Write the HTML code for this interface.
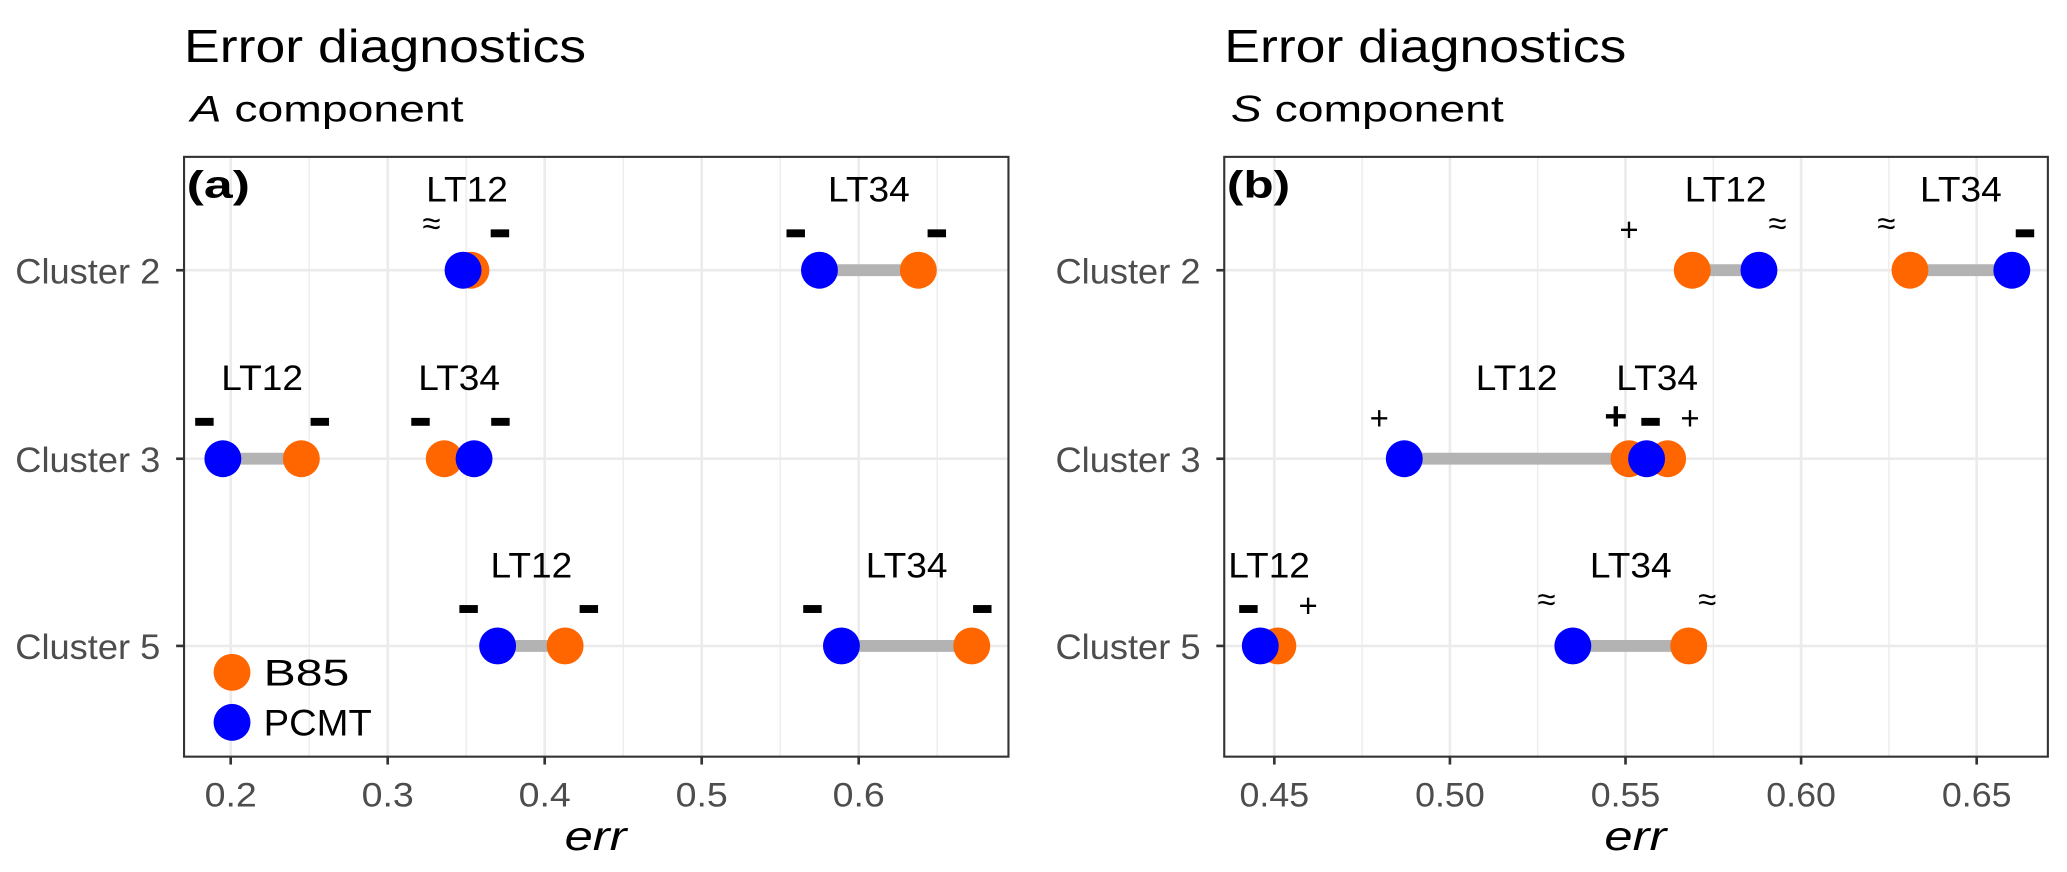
<!DOCTYPE html>
<html><head><meta charset="utf-8"><style>
html,body{margin:0;padding:0;background:#fff;}
svg{display:block;font-family:"Liberation Sans",sans-serif;}
</style></head><body>
<svg id="chart" width="2067" height="872" viewBox="0 0 1568 661.5" xmlns="http://www.w3.org/2000/svg"></svg>
<script>
// ---- data ----
const clusters = ["Cluster 2", "Cluster 3", "Cluster 5"];
// panel a (A component)
const aCluster = [0, 0, 1, 1, 2, 2];
const aGroup = ["LT12", "LT34", "LT12", "LT34", "LT12", "LT34"];
const aB85 = [0.353, 0.638, 0.245, 0.336, 0.413, 0.672];
const aPCMT = [0.348, 0.575, 0.195, 0.355, 0.370, 0.589];
const aSymB85 = ["-", "-", "-", "-", "-", "-"];
const aSymPCMT = ["≈", "-", "-", "-", "-", "-"];
// panel b (S component)
const bCluster = [0, 0, 1, 1, 2, 2];
const bGroup = ["LT12", "LT34", "LT12", "LT34", "LT12", "LT34"];
const bB85 = [0.569, 0.631, 0.551, 0.562, 0.451, 0.568];
const bPCMT = [0.588, 0.660, 0.487, 0.556, 0.446, 0.535];
const bSymB85 = ["+", "≈", "+b", "+", "+", "≈"];
const bSymPCMT = ["≈", "-", "+", "-", "-", "≈"];
const aTicks = [0.2, 0.3, 0.4, 0.5, 0.6];
const aTickLabels = ["0.2", "0.3", "0.4", "0.5", "0.6"];
const aMinor = [0.25, 0.35, 0.45, 0.55, 0.65];
const bTicks = [0.45, 0.50, 0.55, 0.60, 0.65];
const bTickLabels = ["0.45", "0.50", "0.55", "0.60", "0.65"];
const bMinor = [0.475, 0.525, 0.575, 0.625];
// symbol horizontal offsets (styling)
const aDxB85 = [22, 14, 14, -18, 18, 8];
const aDxPCMT = [-24, -18, -14, 20, -22, -22];
const bDxB85 = [-48, -18, -10, 17, 23, 14];
const bDxPCMT = [14, 10, -19, 3, -9, -20];

// ---- drawing ----
const NS = "http://www.w3.org/2000/svg";
const svg = document.getElementById("chart");
function mk(tag, attrs, parent) {
  const e = document.createElementNS(NS, tag);
  for (const k in attrs) e.setAttribute(k, attrs[k]);
  (parent || svg).appendChild(e);
  return e;
}
function stretch(el, len) {
  el.setAttribute("textLength", len);
  el.setAttribute("lengthAdjust", "spacingAndGlyphs");
}
const TOP = 119, BOT = 574;
const rowY = [205, 348, 490];
function yOf(i) { return rowY[i]; }

function panel(cfg) {
  const g = mk("g", {});
  
  
  const x = v => cfg.x0 + (v - cfg.v0) * cfg.k;
  // titles
  const t1 = mk("text", {x: cfg.left, y: 47, "font-size": 35, fill: "#000"}, g);
  t1.textContent = "Error diagnostics";
  stretch(t1, 305);
  
  
  const t2 = mk("text", {x: cfg.left + 5, y: 92, "font-size": 28, fill: "#000"}, g);
  t2.innerHTML = '<tspan font-style="italic">' + cfg.comp + '</tspan> component';
  stretch(t2, 207);
  
  
  // grid
  cfg.minor.forEach(v => {
    const l = mk("line", {x1: x(v), x2: x(v), y1: TOP, y2: BOT, stroke: "#ebebeb", "stroke-width": 1}, g);
    
    
  });
  cfg.ticks.forEach(v => {
    const l = mk("line", {x1: x(v), x2: x(v), y1: TOP, y2: BOT, stroke: "#ebebeb", "stroke-width": 2}, g);
    
    
  });
  clusters.forEach((c, i) => {
    const l = mk("line", {x1: cfg.left, x2: cfg.right, y1: yOf(i), y2: yOf(i), stroke: "#ebebeb", "stroke-width": 2}, g);
    
    
    const tk = mk("line", {x1: cfg.left - 6, x2: cfg.left, y1: yOf(i), y2: yOf(i), stroke: "#333", "stroke-width": 2}, g);
    
    
    const tl = mk("text", {x: cfg.left - 128, y: yOf(i) + 10, "font-size": 27, fill: "#4d4d4d"}, g);
    tl.textContent = c;
    stretch(tl, 110);
    
    
  });
  cfg.ticks.forEach((v, i) => {
    const tk = mk("line", {x1: x(v), x2: x(v), y1: BOT, y2: BOT + 6, stroke: "#333", "stroke-width": 2}, g);
    
    
    const lbl = cfg.tickLabels[i];
    const w = lbl.length * 13.2;
    const tl = mk("text", {x: x(v) - w / 2, y: BOT + 38, "font-size": 26, fill: "#4d4d4d"}, g);
    tl.textContent = lbl;
    stretch(tl, w);
    
    
  });
  const xc = (cfg.left + cfg.right) / 2;
  const xt = mk("text", {x: xc - 24, y: BOT + 71, "font-size": 31, "font-style": "italic"}, g);
  xt.textContent = "err";
  stretch(xt, 47);
  
  
  // segments & points
  cfg.b85.forEach((vb, i) => {
    const y = yOf(cfg.cl[i]);
    const xb = x(vb), xp = x(cfg.pcmt[i]);
    const s = mk("line", {x1: xb, x2: xp, y1: y, y2: y, stroke: "#b3b3b3", "stroke-width": 9}, g);
    
    
    const lab = mk("text", {x: (xb + xp) / 2 - 31, y: y - 52, "font-size": 27}, g);
    lab.textContent = cfg.grp[i];
    stretch(lab, 62);
    
    
    const pts = [[xb, "#ff6600", cfg.symB[i], cfg.dxB[i], 'b85-point'], [xp, "#0000ff", cfg.symP[i], cfg.dxP[i], 'pcmt-point']];
    pts.forEach(p => {
      const c = mk("circle", {cx: p[0], cy: y, r: 14, fill: p[1]}, g);
      
      
    });
    pts.forEach(p => {
      const sym = p[2];
      const sx = p[0] + p[3];
      const sy = y - 26;
      if (sym === "-") {
        const r = mk("rect", {x: sx - 7, y: sy - 5, width: 14, height: 6, fill: "#000"}, g);
        
        
      } else {
        const bold = sym === "+b";
        const t = mk("text", {x: sx, y: sy + (sym === "≈" ? -1 : 4), "font-size": bold ? 30 : 25, "font-weight": bold ? "bold" : "normal", "text-anchor": "middle"}, g);
        t.textContent = bold ? "+" : sym;
        
        
      }
    });
  });
  // frame
  const fr = mk("rect", {x: cfg.left, y: TOP, width: cfg.right - cfg.left, height: BOT - TOP, fill: "none", stroke: "#333", "stroke-width": 1.6}, g);
  
  
  const tag = mk("text", {x: cfg.left + 2, y: 150, "font-size": 29, "font-weight": "bold"}, g);
  tag.textContent = cfg.tag;
  stretch(tag, 48);
  
  
  return g;
}

panel({name: "panel-a", left: 139.6, right: 765, x0: 175, v0: 0.2, k: 1191, comp: "A", tag: "(a)",
  ticks: aTicks, tickLabels: aTickLabels, minor: aMinor, cl: aCluster, grp: aGroup,
  b85: aB85, pcmt: aPCMT, symB: aSymB85, symP: aSymPCMT, dxB: aDxB85, dxP: aDxPCMT});
panel({name: "panel-b", left: 928.7, right: 1553.5, x0: 966.7, v0: 0.45, k: 2664, comp: "S", tag: "(b)",
  ticks: bTicks, tickLabels: bTickLabels, minor: bMinor, cl: bCluster, grp: bGroup,
  b85: bB85, pcmt: bPCMT, symB: bSymB85, symP: bSymPCMT, dxB: bDxB85, dxP: bDxPCMT});

// legend
const leg = mk("g", {});


[["B85", "#ff6600", 510, 65], ["PCMT", "#0000ff", 548, 82]].forEach(e => {
  const c = mk("circle", {cx: 176, cy: e[2], r: 14, fill: e[1]}, leg);
  
  
  const t = mk("text", {x: 200, y: e[2] + 10, "font-size": 28}, leg);
  t.textContent = e[0];
  stretch(t, e[3]);
  
  
});
</script>
</body></html>
